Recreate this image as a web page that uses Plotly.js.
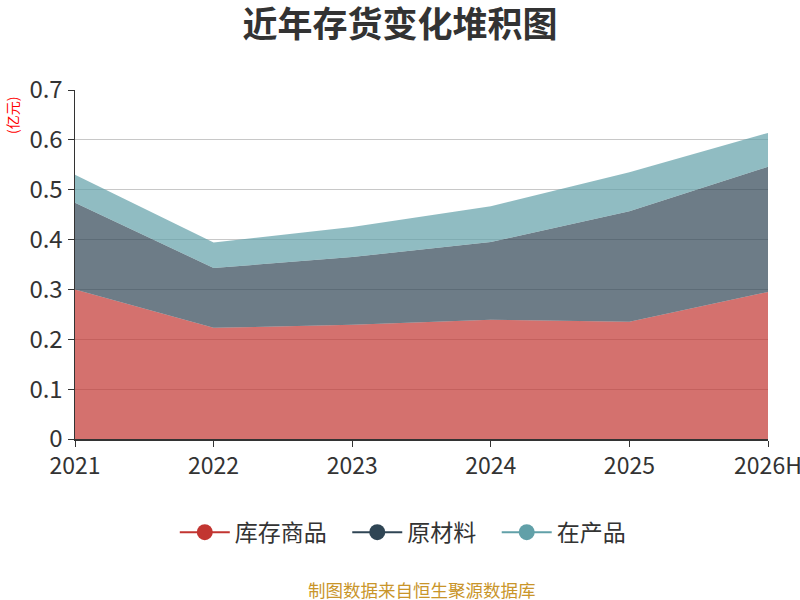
<!DOCTYPE html>
<html>
<head>
<meta charset="utf-8">
<script src="https://cdn.plot.ly/plotly-3.0.1.min.js"></script>
<style>
  body { margin: 0; background: #fff; }
  #chart { width: 800px; height: 600px; }
</style>
</head>
<body>
<div id="chart"></div>
<script>
const years = ['2021', '2022', '2023', '2024', '2025', '2026H']
// 亿元
const kucun = [0.300, 0.223, 0.229, 0.239, 0.235, 0.295]
const yuancailiao = [0.174, 0.120, 0.136, 0.156, 0.222, 0.251]
const zaichanpin = [0.056, 0.051, 0.060, 0.072, 0.078, 0.068]

const names = ['库存商品', '原材料', '在产品']
const colors = ['#c23531', '#2f4554', '#61a0a8']
const fills = ['rgba(194,53,49,0.7)', 'rgba(47,69,84,0.7)', 'rgba(97,160,168,0.7)']
const series = [kucun, yuancailiao, zaichanpin]

let data = []
for (let i = 0; i < series.length; i++) {
    data.push({
        x: years,
        y: series[i],
        type: 'scatter',
        mode: 'lines',
        stackgroup: 'one',
        line: { width: 0, color: colors[i] },
        fillcolor: fills[i],
        hoverinfo: 'skip',
        showlegend: false,
    })
}
// legend entries (line + dot like the original)
for (let i = 0; i < series.length; i++) {
    data.push({
        x: [null],
        y: [null],
        type: 'scatter',
        mode: 'lines+markers',
        name: names[i] + (i < series.length - 1 ? '\u00a0\u00a0\u00a0' : ''),
        line: { width: 2, color: colors[i] },
        marker: { size: 16, color: colors[i] },
    })
}

const layout = {
    width: 800,
    height: 600,
    margin: { l: 75, r: 32, t: 90, b: 161 },
    paper_bgcolor: '#fff',
    plot_bgcolor: '#fff',
    font: { family: '"Noto Sans CJK SC", "Noto Sans", sans-serif', color: '#333' },
    title: {
        text: '<b>近年存货变化堆积图</b>',
        font: { size: 35, color: '#333' },
        x: 0.5, xanchor: 'center',
        y: 0.958, yanchor: 'middle',
    },
    xaxis: {
        type: 'category',
        range: [0, 5],
        showgrid: false,
        showline: true,
        linecolor: '#333',
        linewidth: 1.5,
        ticks: 'outside',
        ticklen: 6,
        tickcolor: '#333',
        tickfont: { size: 23, color: '#333' },
        fixedrange: true,
    },
    yaxis: {
        range: [0, 0.7],
        dtick: 0.1,
        showgrid: true,
        gridcolor: '#c8c8c8',
        gridwidth: 1.2,
        zeroline: false,
        showline: true,
        linecolor: '#333',
        linewidth: 1.5,
        ticks: 'outside',
        ticklen: 6,
        tickcolor: '#333',
        tickfont: { size: 24, color: '#333' },
        fixedrange: true,
    },
    legend: {
        orientation: 'h',
        traceorder: 'normal',
        x: 0.473, xanchor: 'center',
        y: -0.267, yanchor: 'middle',
        font: { size: 23, color: '#333' },
        itemwidth: 50,
        bgcolor: 'rgba(0,0,0,0)',
    },
    annotations: [
        {
            text: '(亿元)',
            xref: 'paper', yref: 'paper',
            x: -0.091, y: 0.928,
            xanchor: 'center', yanchor: 'middle',
            textangle: -90,
            showarrow: false,
            font: { size: 14, color: '#ff0000' },
        },
        {
            text: '制图数据来自恒生聚源数据库',
            xref: 'paper', yref: 'paper',
            x: 0.5, y: -0.43,
            xanchor: 'center', yanchor: 'middle',
            showarrow: false,
            font: { size: 17.5, color: '#c9952a' },
        },
    ],
}

Plotly.newPlot('chart', data, layout, { displayModeBar: false, staticPlot: true })
</script>
</body>
</html>
